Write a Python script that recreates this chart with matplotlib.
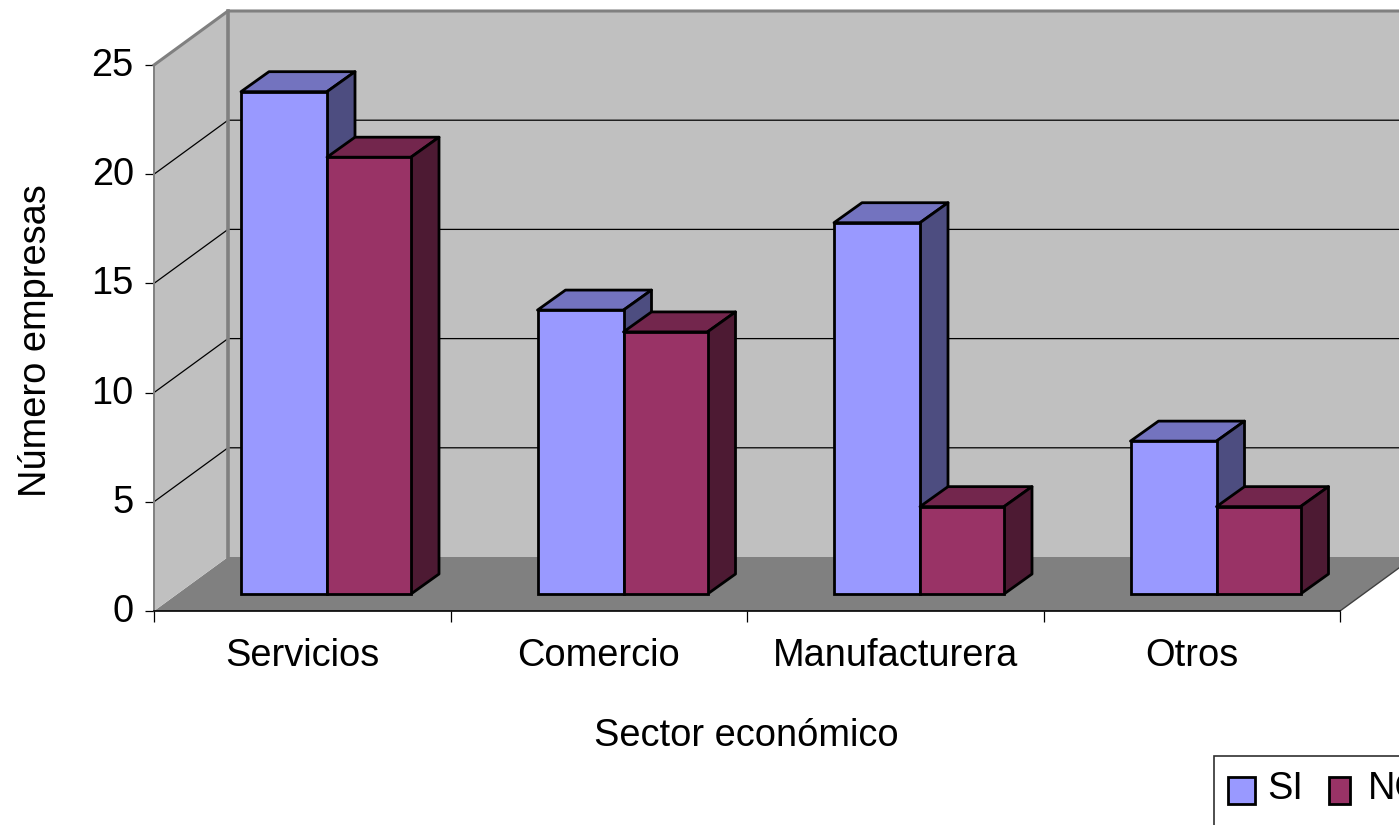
import matplotlib
matplotlib.use("Agg")
import matplotlib.pyplot as plt
from matplotlib.legend_handler import HandlerPatch
from matplotlib.patches import Patch, Rectangle
from matplotlib.transforms import ScaledTranslation

categories = ["Servicios", "Comercio", "Manufacturera", "Otros"]
si_values = [23, 13, 17, 7]
no_values = [20, 12, 4, 4]
series_labels = ["SI", "NO"]
y_ticks = [0, 5, 10, 15, 20, 25]

plt.rcParams["font.family"] = ["Liberation Sans", "DejaVu Sans"]
FS = 27.4
W, H = 1399, 825
fig = plt.figure(figsize=(W / 100, H / 100), dpi=100, facecolor="white")
ax = fig.add_axes([154 / W, (H - 611) / H, 1186 / W, 546 / H])
ax.set_xlim(0, 4)
ax.set_ylim(0, 25)
ax.patch.set_visible(False)

# oblique projection, in data units
WALL_DX, WALL_DY = 74 / 296.5, 54 / 21.84
BAR_DX, BAR_DY = 28 / 296.5, 20 / 21.84
LIFT = 17 / 21.84
START = 87 / 296.5
BW_SI = 86 / 296.5
BW_NO = 84 / 296.5

WALL, FLOOR, EDGE = "#C0C0C0", "#808080", "#808080"
x_end = 4
# floor and walls
ax.fill([0, x_end, x_end + WALL_DX, WALL_DX], [0, 0, WALL_DY, WALL_DY], color=FLOOR, lw=0, clip_on=False, zorder=1)
ax.fill([WALL_DX, x_end + WALL_DX, x_end + WALL_DX, WALL_DX],
        [WALL_DY, WALL_DY, 25 + WALL_DY, 25 + WALL_DY], color=WALL, lw=0, clip_on=False, zorder=1)
ax.fill([0, WALL_DX, WALL_DX, 0], [0, WALL_DY, 25 + WALL_DY, 25], color=WALL, lw=0, clip_on=False, zorder=1)
# gridlines
for v in y_ticks[1:-1]:
    ax.plot([0, WALL_DX, x_end + WALL_DX], [v, v + WALL_DY, v + WALL_DY], color="black", lw=0.9,
            clip_on=False, zorder=2)
# wall edges
ax.plot([0, WALL_DX, x_end + WALL_DX], [25, 25 + WALL_DY, 25 + WALL_DY], color=EDGE, lw=2.2,
        clip_on=False, zorder=2, solid_joinstyle="miter")
ax.plot([WALL_DX, WALL_DX], [WALL_DY, 25 + WALL_DY], color=EDGE, lw=2.6, clip_on=False, zorder=2)
ax.plot([0, 0], [0, 25], color=EDGE, lw=1.4, clip_on=False, zorder=2)
ax.plot([x_end, x_end + WALL_DX], [0, WALL_DY], color="#404040", lw=1.0, clip_on=False, zorder=2)


def draw_bars(x_lefts, values, width, front, top, side, z):
    ax.bar(x_lefts, values, width=width, bottom=LIFT, align="edge", color=front, edgecolor="black",
           linewidth=2.0, clip_on=False, zorder=z + 1)
    for xl, v in zip(x_lefts, values):
        yt = v + LIFT
        xr = xl + width
        ax.fill([xl, xr, xr + BAR_DX, xl + BAR_DX], [yt, yt, yt + BAR_DY, yt + BAR_DY], facecolor=top,
                edgecolor="black", lw=2.0, clip_on=False, zorder=z, joinstyle="round")
        ax.fill([xr, xr + BAR_DX, xr + BAR_DX, xr], [LIFT, LIFT + BAR_DY, yt + BAR_DY, yt], facecolor=side,
                edgecolor="black", lw=2.0, clip_on=False, zorder=z, joinstyle="round")


positions = list(range(len(categories)))
draw_bars([p + START for p in positions], si_values, BW_SI, "#9999FF", "#7373BF", "#4D4D80", 3)
draw_bars([p + START + BW_SI for p in positions], no_values, BW_NO, "#993366", "#73264D", "#4D1A33", 5)

# axes
for s in ("top", "right"):
    ax.spines[s].set_visible(False)
ax.spines["left"].set_visible(False)
ax.spines["bottom"].set_color("black")
ax.spines["bottom"].set_linewidth(1.2)
ax.spines["bottom"].set_zorder(8)
ax.set_yticks(y_ticks)
ax.tick_params(axis="y", labelsize=FS, length=6.5, width=0.9, pad=8)
up = ScaledTranslation(0, 3 / 72 * 72 / 100, fig.dpi_scale_trans)
for lab in ax.get_yticklabels():
    lab.set_transform(lab.get_transform() + up)
ax.set_xticks(range(len(categories) + 1))
ax.set_xticklabels([])
ax.set_xticks([p + 0.5 for p in positions], minor=True)
ax.set_xticklabels(categories, minor=True)
ax.tick_params(axis="x", which="major", length=8, width=0.9)
ax.tick_params(axis="x", which="minor", length=0, labelsize=FS, pad=19.5)
ax.set_xlabel("Sector económico", fontsize=FS, va="center")
ax.xaxis.set_label_coords(0.499, -(736 - 611) / 546)
ax.set_ylabel("Número empresas", fontsize=FS, va="center")
ax.yaxis.set_label_coords(-118 / 1186, 0.4945)

# legend (box runs off the canvas, as in the reference)
fig.add_artist(Rectangle((1214 / W, -0.05), 300 / W, (H - 756) / H + 0.05, transform=fig.transFigure,
                         facecolor="white", edgecolor="#303030", lw=1.2))


def shifted(width_scale):
    def make(legend, orig_handle, xdescent, ydescent, width, height, fontsize):
        return Rectangle((-xdescent, -ydescent - 5 * 0.72), width * width_scale, height)
    return HandlerPatch(patch_func=make)


handle_si = Patch(facecolor="#9999FF", edgecolor="black", lw=2.0)
handle_no = Patch(facecolor="#993366", edgecolor="black", lw=2.0)
leg = fig.legend([handle_si, handle_no], series_labels, ncol=2, fontsize=FS, frameon=False, loc="upper left",
                 bbox_to_anchor=(1228 / W, (H - 771) / H), borderpad=0, borderaxespad=0,
                 handlelength=0.72, handleheight=0.72, handletextpad=0.32, columnspacing=0.66,
                 handler_map={handle_si: shifted(1.0), handle_no: shifted(0.8)})

fig.savefig("out.png", dpi=100)
